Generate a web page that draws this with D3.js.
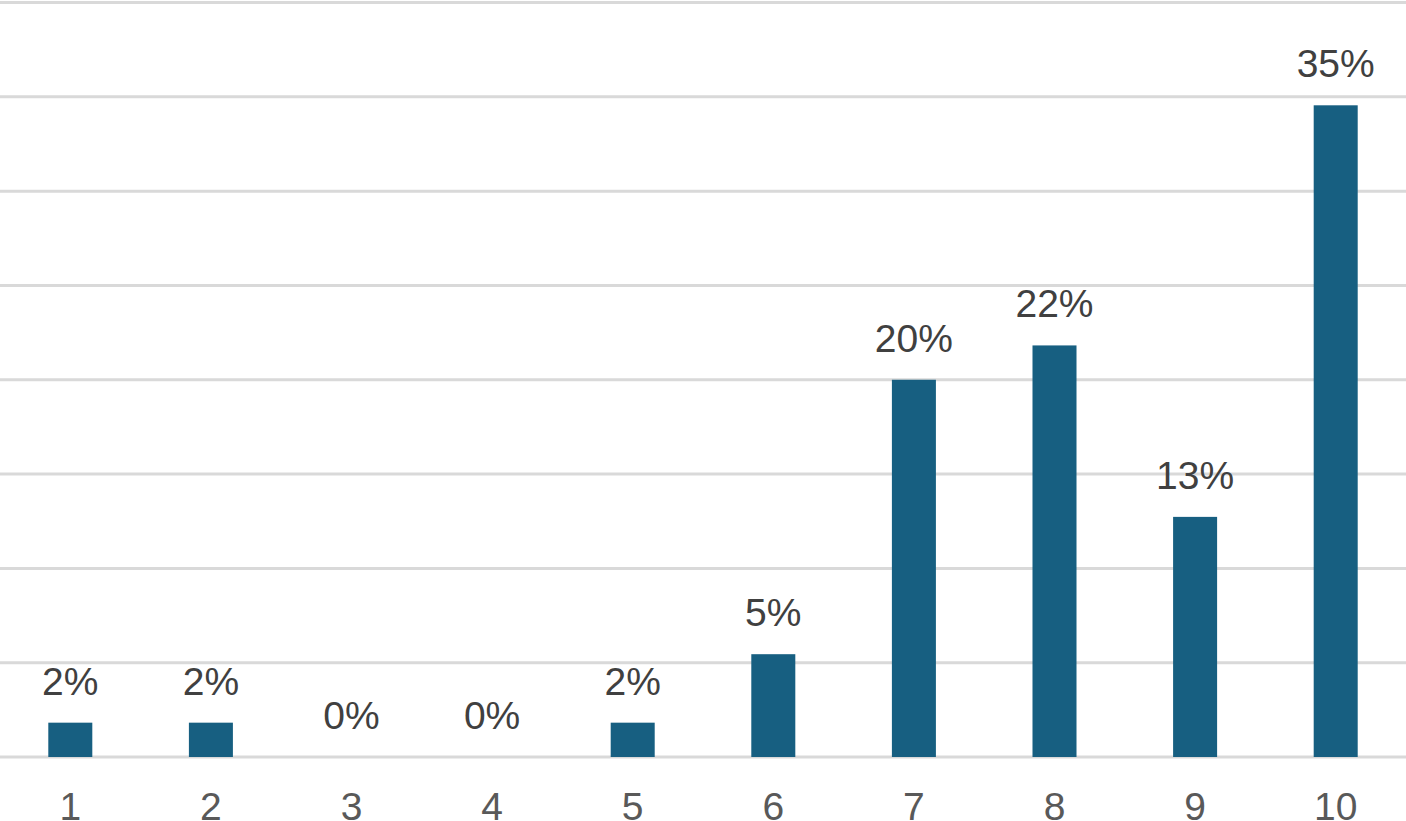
<!DOCTYPE html>
<html><head><meta charset="utf-8">
<script src="https://cdn.jsdelivr.net/npm/d3@7"></script>
<style>html,body{margin:0;padding:0;background:#fff;overflow:hidden}</style>
</head><body>
<svg id="chart" width="1406" height="821"></svg>
<script>
const categories = ["1","2","3","4","5","6","7","8","9","10"];
const values = [1.82, 1.82, 0, 0, 1.82, 5.45, 20, 21.82, 12.73, 34.55];
const valueLabels = ["2%","2%","0%","0%","2%","5%","20%","22%","13%","35%"];
const yTicks = [0,5,10,15,20,25,30,35,40];

const W = 1406, H = 821;
const svg = d3.select("#chart");
const x = d3.scaleBand().domain(categories).range([0, W]).paddingInner(0.687).paddingOuter(0.3435);
const y = d3.scaleLinear().domain([0, 40]).range([757, 2.5]);

svg.append("g").selectAll("line").data(yTicks).join("line")
  .attr("x1", 0).attr("x2", W)
  .attr("y1", d => y(d)).attr("y2", d => y(d))
  .attr("stroke", "#d9d9d9").attr("stroke-width", 3);

svg.append("g").selectAll("rect").data(values).join("rect")
  .attr("x", (d,i) => x(categories[i]))
  .attr("width", x.bandwidth())
  .attr("y", d => y(d))
  .attr("height", d => y(0) - y(d))
  .attr("fill", "#175f81");

const font = "'Liberation Sans', Arial, sans-serif";
svg.append("g").selectAll("text").data(values).join("text")
  .attr("x", (d,i) => x(categories[i]) + x.bandwidth()/2)
  .attr("y", d => y(d) - 28)
  .attr("text-anchor", "middle")
  .attr("font-family", font).attr("font-size", 39).attr("fill", "#404040")
  .text((d,i) => valueLabels[i]);

svg.append("g").selectAll("text").data(categories).join("text")
  .attr("x", d => x(d) + x.bandwidth()/2)
  .attr("y", 820)
  .attr("text-anchor", "middle")
  .attr("font-family", font).attr("font-size", 39).attr("fill", "#595959")
  .text(d => d);
</script>
</body></html>
